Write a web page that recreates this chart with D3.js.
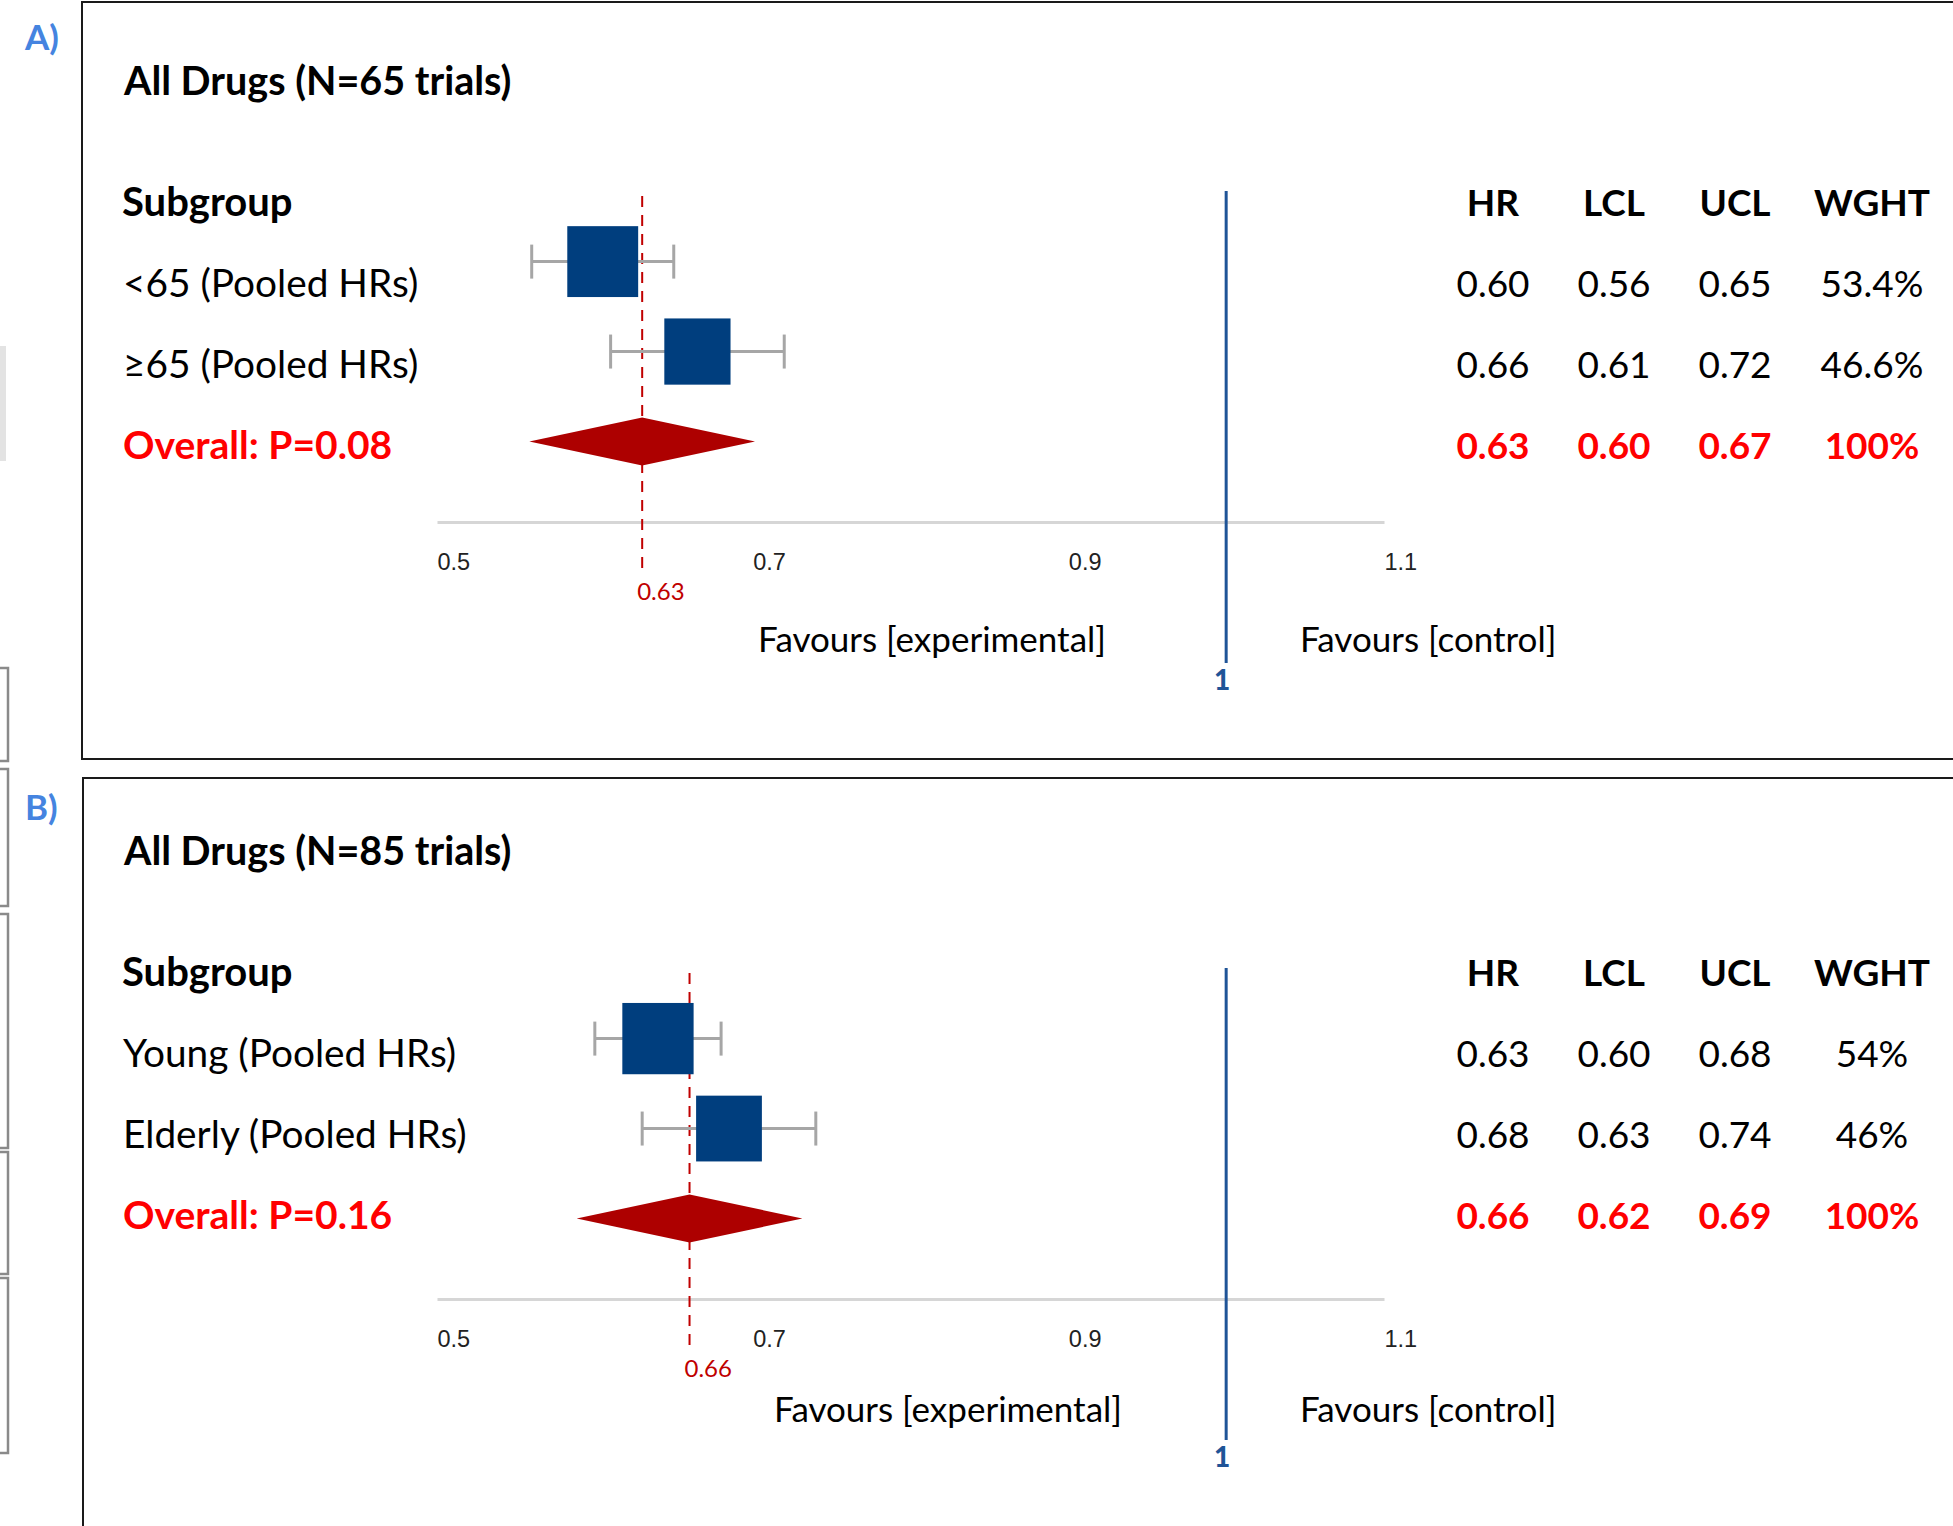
<!DOCTYPE html>
<html>
<head>
<meta charset="utf-8">
<script src="https://cdn.jsdelivr.net/npm/d3@7"></script>
<style>
  body { margin: 0; background: #fff; }
  svg { display: block; font-family: Lato, "Open Sans", sans-serif; }
</style>
</head>
<body>
<script>
const W = 1953;
const H = 1526;

// ---- data ----
const panelLetters = ['A)', 'B)'];
const panelTitles = ['All Drugs (N=65 trials)', 'All Drugs (N=85 trials)'];
const tableHeaders = ['HR', 'LCL', 'UCL', 'WGHT'];

const subgroupsA = ['<65 (Pooled HRs)', '\u226565 (Pooled HRs)'];
const hrA = [0.60, 0.66];
const lclA = [0.56, 0.61];
const uclA = [0.65, 0.72];
const wghtA = [53.4, 46.6];
const overallA = {label: 'Overall: P=0.08', hr: 0.63, lcl: 0.60, ucl: 0.67, wght: 100};

const subgroupsB = ['Young (Pooled HRs)', 'Elderly (Pooled HRs)'];
const hrB = [0.63, 0.68];
const lclB = [0.60, 0.63];
const uclB = [0.68, 0.74];
const wghtB = [54, 46];
const overallB = {label: 'Overall: P=0.16', hr: 0.66, lcl: 0.62, ucl: 0.69, wght: 100};

const axisTicks = [0.5, 0.7, 0.9, 1.1];
const nullValue = 1;
const diamondHalf = 0.0715; // half width of the pooled diamond, in HR units

// ---- colours ----
const boxBlue = '#003e7e';
const diamondRed = '#ad0000';
const refRed = '#c00000';
const textRed = '#ff0000';
const lineBlue = '#1f5497';
const letterBlue = '#4584e0';

const svg = d3
	.select('body')
	.append('svg')
	.attr('width', W)
	.attr('height', H)
	.style('background-color', '#fff');

// leftover slide thumbnails on the left edge
svg.append('rect').attr('x', -4).attr('y', 346).attr('width', 10).attr('height', 115).attr('fill', '#e3e3e3');
[[668, 761], [769, 906], [914, 1148], [1152, 1274], [1278, 1453]].forEach(([a, b]) => {
	svg.append('rect')
		.attr('x', -20).attr('y', a).attr('width', 28).attr('height', b - a)
		.attr('fill', 'none').attr('stroke', '#8a8a8a').attr('stroke-width', 2.5);
});

// panel frames
svg.append('rect').attr('x', 82).attr('y', 2).attr('width', 2000).attr('height', 757)
	.attr('fill', 'none').attr('stroke', '#1a1a1a').attr('stroke-width', 2);
svg.append('rect').attr('x', 83).attr('y', 778).attr('width', 2000).attr('height', 1000)
	.attr('fill', 'none').attr('stroke', '#1a1a1a').attr('stroke-width', 2);

const x = d3.scaleLinear().domain([0.5, 1.1]).range([437, 1384]);
const boxSize = d3.scaleSqrt().domain([0, 100]).range([0, 97]);
const colX = {HR: 1493, LCL: 1614, UCL: 1735, WGHT: 1872};

function drawPanel(p) {
	const t = svg.append('g').attr('transform', `translate(0, ${p.textDy})`);
	const c = svg.append('g').attr('transform', `translate(0, ${p.chartDy})`);

	t.append('text').attr('x', 25).attr('y', 50)
		.style('font-size', '35px').style('font-weight', 700).attr('fill', letterBlue)
		.text(p.letter);

	t.append('text').attr('x', 124).attr('y', 95)
		.style('font-size', '39.5px').style('font-weight', 700)
		.text(p.title);

	// table header row
	const rowY = [297, 378, 459];
	t.append('text').attr('x', 122).attr('y', 216)
		.style('font-size', '40px').style('font-weight', 700)
		.text('Subgroup');
	t.selectAll('.hdr').data(tableHeaders).enter().append('text')
		.attr('x', d => colX[d]).attr('y', 216)
		.style('text-anchor', 'middle').style('font-size', '37px').style('font-weight', 700)
		.text(d => d);

	const rows = p.subgroups.map((s, i) => ({
		label: s, hr: p.hr[i], lcl: p.lcl[i], ucl: p.ucl[i], wght: p.wght[i], overall: false,
	}));
	const all = rows.concat([{...p.overall, overall: true}]);

	t.selectAll('.lbl').data(all).enter().append('text')
		.attr('x', 123).attr('y', (d, i) => rowY[i])
		.style('font-size', d => (d.overall ? '39px' : '38.8px'))
		.style('font-weight', d => (d.overall ? 700 : 400))
		.attr('fill', d => (d.overall ? textRed : '#000'))
		.text(d => d.label);

	all.forEach((d, i) => {
		const vals = [d.hr.toFixed(2), d.lcl.toFixed(2), d.ucl.toFixed(2), p.fmtW(d.wght)];
		tableHeaders.forEach((h, j) => {
			t.append('text').attr('x', colX[h]).attr('y', rowY[i])
				.style('text-anchor', 'middle').style('font-size', '37px')
				.style('font-weight', d.overall ? 700 : 400)
				.attr('fill', d.overall ? textRed : '#000')
				.text(vals[j]);
		});
	});

	// ---- forest plot ----
	const y = d3.scalePoint().domain(d3.range(all.length)).range([261.6, 441.5]);

	// axis
	const axis = d3.axisBottom(x).tickValues(axisTicks).tickSize(0).tickSizeOuter(0)
		.tickPadding(31).tickFormat(d3.format('.1f'));
	const ax = c.append('g').attr('transform', 'translate(0, 522)').call(axis);
	ax.select('.domain').attr('stroke', '#d6d6d6').attr('stroke-width', 3);
	ax.selectAll('text')
		.attr('font-family', null).attr('fill', '#222')
		.style('font-size', '23.5px').style('text-anchor', 'start');

	// reference line at null value
	c.append('line')
		.attr('x1', x(nullValue)).attr('x2', x(nullValue))
		.attr('y1', 191).attr('y2', 663)
		.attr('stroke', lineBlue).attr('stroke-width', 3);
	c.append('text').attr('x', x(nullValue) - 4).attr('y', 690)
		.style('text-anchor', 'middle').style('font-size', '28px').style('font-weight', 900)
		.attr('fill', lineBlue).text(nullValue);

	// favours labels
	t.append('text').attr('x', p.expRight).attr('y', 652)
		.style('text-anchor', 'end').style('font-size', '35px')
		.text('Favours [experimental]');
	t.append('text').attr('x', 1300).attr('y', 652)
		.style('font-size', '35px')
		.text('Favours [control]');

	// pooled estimate dashed line
	c.append('line')
		.attr('x1', x(p.overall.hr)).attr('x2', x(p.overall.hr))
		.attr('y1', 196).attr('y2', 569)
		.attr('stroke', refRed).attr('stroke-width', 2)
		.attr('stroke-dasharray', '11,8');
	c.append('text').attr('x', x(p.overall.hr) - 5).attr('y', 600)
		.style('font-size', '24px').attr('fill', refRed)
		.text(p.overall.hr.toFixed(2));

	// whiskers
	const cap = 17;
	const ci = c.selectAll('.ci').data(rows).enter().append('g')
		.attr('stroke', '#a6a6a6').attr('stroke-width', 3);
	ci.append('line').attr('x1', d => x(d.lcl)).attr('x2', d => x(d.ucl))
		.attr('y1', (d, i) => y(i)).attr('y2', (d, i) => y(i));
	ci.append('line').attr('x1', d => x(d.lcl)).attr('x2', d => x(d.lcl))
		.attr('y1', (d, i) => y(i) - cap).attr('y2', (d, i) => y(i) + cap);
	ci.append('line').attr('x1', d => x(d.ucl)).attr('x2', d => x(d.ucl))
		.attr('y1', (d, i) => y(i) - cap).attr('y2', (d, i) => y(i) + cap);

	// boxes sized by weight, centred on the CI
	c.selectAll('.box').data(rows).enter().append('rect')
		.attr('x', d => x((d.lcl + d.ucl) / 2) - boxSize(d.wght) / 2)
		.attr('y', (d, i) => y(i) - boxSize(d.wght) / 2)
		.attr('width', d => boxSize(d.wght))
		.attr('height', d => boxSize(d.wght))
		.attr('fill', boxBlue);

	// pooled diamond
	const o = p.overall;
	const yo = y(all.length - 1);
	c.append('path')
		.attr('d', `M${x(o.hr - diamondHalf)},${yo} L${x(o.hr)},${yo - 24} L${x(o.hr + diamondHalf)},${yo} L${x(o.hr)},${yo + 24} Z`)
		.attr('fill', diamondRed);
}

drawPanel({
	letter: panelLetters[0], title: panelTitles[0],
	subgroups: subgroupsA, hr: hrA, lcl: lclA, ucl: uclA, wght: wghtA, overall: overallA,
	fmtW: w => (w === 100 ? '100%' : w.toFixed(1) + '%'),
	textDy: 0, chartDy: 0, expRight: 1106,
});

drawPanel({
	letter: panelLetters[1], title: panelTitles[1],
	subgroups: subgroupsB, hr: hrB, lcl: lclB, ucl: uclB, wght: wghtB, overall: overallB,
	fmtW: w => w + '%',
	textDy: 770, chartDy: 777, expRight: 1122,
});
</script>
</body>
</html>
